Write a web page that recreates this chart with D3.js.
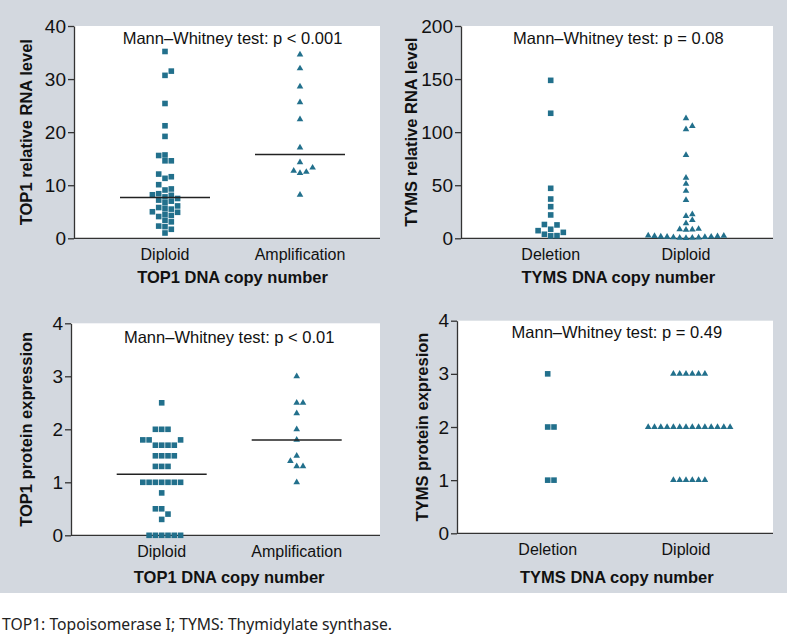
<!DOCTYPE html>
<html>
<head>
<meta charset="utf-8">
<script src="https://cdn.jsdelivr.net/npm/d3@7"></script>
<style>
  html, body { margin: 0; padding: 0; background: #ffffff; }
  svg { display: block; }
</style>
</head>
<body>
<svg id="chart" width="787" height="634"></svg>
<script>
// ---------------- DATA ----------------
const top1Categories = ["Diploid", "Amplification"];
const tymsCategories = ["Deletion", "Diploid"];

const top1RnaDiploid = [35.2, 31.5, 30.7, 25.4, 21.2, 19.2, 15.7, 15.6, 14.6, 14.6, 12.1, 11.6, 11.3, 10.1,
  9.3, 9.1, 8.4, 8.2, 8.1, 7.8, 7.5, 7.2, 7.0, 6.7, 6.1, 5.8, 5.6, 5.5, 5.0, 4.9, 4.5, 4.3, 4.1, 3.4, 3.1,
  2.3, 2.2, 1.7, 1.0];
const top1RnaAmplification = [34.6, 32.0, 28.6, 25.6, 22.4, 17.1, 14.3, 13.3, 12.7, 12.5, 12.3, 8.2];
const top1RnaMedians = [7.7, 15.8];
const top1RnaTicks = [0, 10, 20, 30, 40];

const tymsRnaDeletion = [148.8, 117.8, 47.1, 37.0, 29.8, 22.0, 13.0, 12.6, 8.5, 7.2, 5.6, 3.8, 2.5, 2.3];
const tymsRnaDiploid = [113.0, 105.8, 102.7, 78.5, 57.0, 51.4, 44.6, 36.1, 22.6, 21.0, 17.2, 14.2,
  8.8, 8.5, 8.2, 7.9, 2.5, 2.3, 2.1, 1.9, 1.7, 1.5, 1.3, 1.1, 0.9, 0.7, 0.5, 0.4, 0.3];
const tymsRnaTicks = [0, 50, 100, 150, 200];

const top1ProteinDiploid = [2.5, 2.0, 2.0, 2.0, 1.8, 1.8, 1.8, 1.7, 1.7, 1.7, 1.7, 1.5, 1.5, 1.5, 1.5,
  1.3, 1.3, 1.3, 1.0, 1.0, 1.0, 1.0, 1.0, 1.0, 1.0, 0.8, 0.5, 0.5, 0.4, 0.3, 0, 0, 0, 0, 0, 0];
const top1ProteinAmplification = [3.0, 2.5, 2.5, 2.3, 2.0, 1.8, 1.5, 1.4, 1.3, 1.3, 1.0];
const top1ProteinMedians = [1.15, 1.8];

const tymsProteinDeletion = [3, 2, 2, 1, 1];
const tymsProteinDiploid = [3, 3, 3, 3, 3, 3, 2, 2, 2, 2, 2, 2, 2, 2, 2, 2, 2, 2, 2, 2, 1, 1, 1, 1, 1, 1];
const proteinTicks = [0, 1, 2, 3, 4];

const testLabels = ["Mann\u2013Whitney test: p < 0.001", "Mann\u2013Whitney test: p = 0.08",
  "Mann\u2013Whitney test: p < 0.01", "Mann\u2013Whitney test: p = 0.49"];
const yTitles = ["TOP1 relative RNA level", "TYMS relative RNA level",
  "TOP1 protein expression", "TYMS protein expresion"];
const xTitles = ["TOP1 DNA copy number", "TYMS DNA copy number",
  "TOP1 DNA copy number", "TYMS DNA copy number"];
const footnote = "TOP1: Topoisomerase I; TYMS: Thymidylate synthase.";

// ---------------- LAYOUT ----------------
const panels = [
  { cats: top1Categories, series: [top1RnaDiploid, top1RnaAmplification], shapes: ["square", "triangle"],
    medians: top1RnaMedians, ticks: top1RnaTicks, label: 0,
    box: { left: 74, right: 380, top: 26, bottom: 238.3 }, catX: [165, 300],
    yTitleX: 32, catBase: 260, xTitleBase: 283, titleBase: 44 },
  { cats: tymsCategories, series: [tymsRnaDeletion, tymsRnaDiploid], shapes: ["square", "triangle"],
    medians: null, ticks: tymsRnaTicks, label: 1,
    box: { left: 461, right: 773, top: 26, bottom: 238.3 }, catX: [550.7, 686],
    yTitleX: 417, catBase: 260, xTitleBase: 283, titleBase: 44 },
  { cats: top1Categories, series: [top1ProteinDiploid, top1ProteinAmplification], shapes: ["square", "triangle"],
    medians: top1ProteinMedians, ticks: proteinTicks, label: 2,
    box: { left: 71, right: 380, top: 323.3, bottom: 535.3 }, catX: [161.7, 296.7],
    yTitleX: 32, catBase: 557, xTitleBase: 583, titleBase: 343 },
  { cats: tymsCategories, series: [tymsProteinDeletion, tymsProteinDiploid], shapes: ["square", "triangle"],
    medians: null, ticks: proteinTicks, label: 3,
    box: { left: 457, right: 773, top: 320.7, bottom: 533.3 }, catX: [547.7, 686],
    yTitleX: 428, catBase: 555, xTitleBase: 583, titleBase: 338 }
];

const COLOR = "#22708c";
const AXIS = "#333";
const SPACING = 6.3;
const THRESH = 5.6;
const FONT = "'Liberation Sans', Arial, sans-serif";

const svg = d3.select("#chart");
svg.append("rect").attr("x", 0).attr("y", 0).attr("width", 787).attr("height", 593).attr("fill", "#d3d8df");

function swarm(values, y, cx) {
  const idx = values.map((v, i) => i).sort((a, b) => values[a] - values[b]);
  const placed = [];
  const out = [];
  idx.forEach(i => {
    const py = y(values[i]);
    let k = 0;
    for (let step = 0; step < 60; step++) {
      const cand = step === 0 ? 0 : (step % 2 === 1 ? (step + 1) / 2 : -step / 2);
      const hit = placed.some(p => p.k === cand && Math.abs(p.py - py) < THRESH);
      if (!hit) { k = cand; break; }
    }
    placed.push({ k, py });
    out.push({ x: cx + k * SPACING, y: py, v: values[i] });
  });
  return out;
}

panels.forEach(p => {
  const b = p.box;
  const g = svg.append("g");
  g.append("rect").attr("x", b.left).attr("y", b.top).attr("width", b.right - b.left)
    .attr("height", b.bottom - b.top).attr("fill", "#ffffff");

  const y = d3.scaleLinear().domain([0, d3.max(p.ticks)]).range([b.bottom, b.top]);
  const x = d3.scalePoint().domain(p.cats).range(p.catX);

  // y axis
  const ax = g.append("g").attr("transform", `translate(${b.left},0)`)
    .call(d3.axisLeft(y).tickValues(p.ticks).tickFormat(d3.format("d"))
      .tickSize(6).tickSizeOuter(0).tickPadding(2));
  ax.attr("font-family", FONT).attr("font-size", 19);
  ax.select(".domain").attr("stroke", AXIS).attr("stroke-width", 1.3);
  ax.selectAll(".tick line").attr("stroke", AXIS).attr("stroke-width", 1.3);
  ax.selectAll(".tick text").attr("font-family", FONT).attr("font-size", 19).attr("fill", "#111");

  // x axis line
  g.append("line").attr("x1", b.left).attr("x2", b.right).attr("y1", b.bottom).attr("y2", b.bottom)
    .attr("stroke", AXIS).attr("stroke-width", 1.3);

  // category labels
  g.selectAll(".cat").data(p.cats).enter().append("text")
    .attr("x", d => x(d)).attr("y", p.catBase).attr("text-anchor", "middle")
    .attr("font-family", FONT).attr("font-size", 16).attr("fill", "#111").text(d => d);

  const mid = (x(p.cats[0]) + x(p.cats[1])) / 2;
  g.append("text").attr("x", mid).attr("y", p.xTitleBase).attr("text-anchor", "middle")
    .attr("font-family", FONT).attr("font-size", 16.5).attr("font-weight", "bold").attr("fill", "#111")
    .text(xTitles[p.label]);
  g.append("text").attr("transform", `translate(${p.yTitleX},${(b.top + b.bottom) / 2}) rotate(-90)`)
    .attr("text-anchor", "middle").attr("font-family", FONT).attr("font-size", 16.5)
    .attr("font-weight", "bold").attr("fill", "#111").text(yTitles[p.label]);
  g.append("text").attr("x", mid).attr("y", p.titleBase).attr("text-anchor", "middle")
    .attr("font-family", FONT).attr("font-size", 16.5).attr("fill", "#111").text(testLabels[p.label]);

  // points
  p.series.forEach((vals, si) => {
    const pts = swarm(vals, y, x(p.cats[si]));
    if (p.shapes[si] === "square") {
      g.selectAll(null).data(pts).enter().append("rect")
        .attr("x", d => d.x - 2.8).attr("y", d => d.y - 2.8).attr("width", 5.6).attr("height", 5.6)
        .attr("fill", COLOR);
    } else {
      const sym = d3.symbol().type(d3.symbolTriangle).size(19);
      g.selectAll(null).data(pts).enter().append("path")
        .attr("d", sym).attr("transform", d => `translate(${d.x},${d.y})`).attr("fill", COLOR);
    }
  });

  if (p.medians) {
    g.selectAll(".med").data(p.cats).enter().append("line")
      .attr("x1", d => x(d) - 45).attr("x2", d => x(d) + 45)
      .attr("y1", (d, i) => y(p.medians[i])).attr("y2", (d, i) => y(p.medians[i]))
      .attr("stroke", "#222").attr("stroke-width", 1.5);
  }
});

svg.append("text").attr("x", 2).attr("y", 630).attr("font-family", "'Noto Sans', 'Open Sans', sans-serif")
  .attr("font-size", 16).attr("fill", "#222").attr("textLength", 390).attr("lengthAdjust", "spacingAndGlyphs")
  .text(footnote);
</script>
</body>
</html>
